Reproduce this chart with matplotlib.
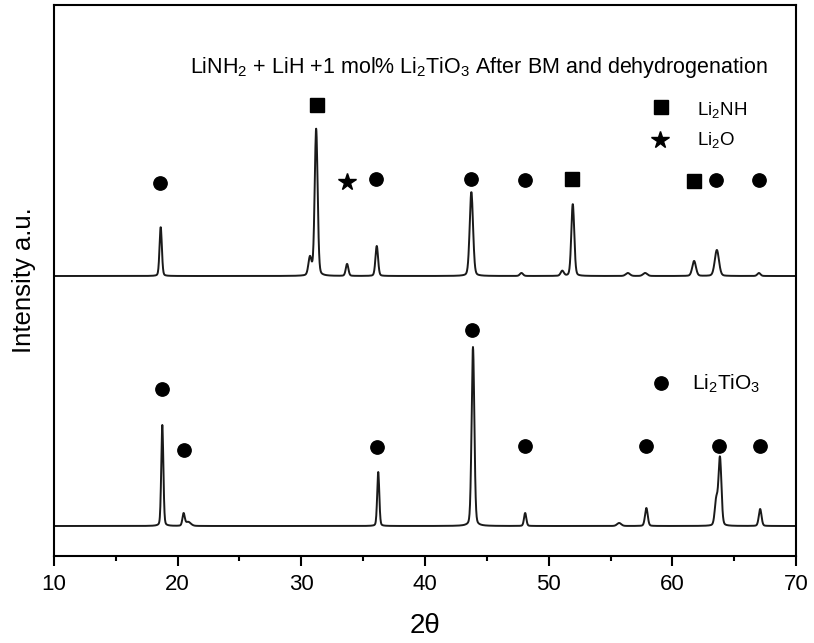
import numpy as np
import matplotlib
matplotlib.use('Agg')
import matplotlib.pyplot as plt

plt.rcParams['font.family'] = ['Liberation Sans', 'DejaVu Sans']
plt.rcParams['mathtext.fontset'] = 'custom'
plt.rcParams['mathtext.rm'] = 'Liberation Sans'
plt.rcParams['mathtext.default'] = 'rm'

# peaks: 2theta, height (a.u.), FWHM (deg)
bm_pos    = [18.63, 30.70, 31.20, 33.70, 36.10, 43.75, 47.80, 51.10, 51.95, 56.40, 57.80, 61.76, 63.60, 67.00]
bm_height = [49,    18,    147,   12,    30,    84,    3,     5,     72,    3,     3,     15,    26,    3]
bm_fwhm   = [0.22,  0.30,  0.28,  0.25,  0.25,  0.32,  0.30,  0.30,  0.28,  0.40,  0.40,  0.35,  0.40,  0.30]
bm_offset = 280

lto_pos    = [18.76, 20.48, 20.85, 36.22, 43.88, 48.10, 55.70, 57.90, 63.55, 63.85, 67.10]
lto_height = [101,   12,    4,     54,    179,   13,    3,     18,    25,    68,    17]
lto_fwhm   = [0.20,  0.22,  0.50,  0.20,  0.26,  0.22,  0.40,  0.26,  0.28,  0.28,  0.26]
lto_offset = 30

# phase markers (2theta, height)
bm_circ_x = [18.60, 36.03, 43.74, 48.08, 63.57, 66.99]
bm_circ_y = [373, 377, 377, 376, 376, 376]
bm_sq_x = [31.24, 51.85, 61.76]
bm_sq_y = [451, 377, 375]
bm_star_x = [33.71]
bm_star_y = [374]

lto_circ_x = [18.73, 20.48, 36.14, 43.80, 48.10, 57.86, 63.78, 67.07]
lto_circ_y = [167, 106, 109, 226, 110, 110, 110, 110]

tth = np.linspace(10, 70, 3001)


def pattern(pos, height, fwhm, offset):
    y = np.full_like(tth, float(offset))
    for p, h, w in zip(pos, height, fwhm):
        s = w / 2.3548
        g = np.exp(-0.5 * ((tth - p) / s) ** 2)
        l = 1.0 / (1.0 + ((tth - p) / (w / 2)) ** 2)
        y += h * (0.8 * g + 0.2 * l)
    return y


fig = plt.figure(figsize=(8.14, 6.43), dpi=100)
ax = fig.add_axes([0.0663, 0.1353, 0.9116, 0.8569])

ax.plot(tth, pattern(bm_pos, bm_height, bm_fwhm, bm_offset), color='#1a1a1a', lw=1.4)
ax.plot(tth, pattern(lto_pos, lto_height, lto_fwhm, lto_offset), color='#1a1a1a', lw=1.4)

ax.plot(bm_circ_x, bm_circ_y, 'o', color='k', ms=9.6, ls='none')
ax.plot(bm_sq_x, bm_sq_y, 's', color='k', ms=9.4, ls='none')
ax.plot(bm_star_x, bm_star_y, '*', color='k', ms=13, ls='none')
ax.plot(lto_circ_x, lto_circ_y, 'o', color='k', ms=9.6, ls='none')

# legend-like labels
ax.plot([59.05], [449], 's', color='k', ms=9.4)
ax.plot([59.0], [416], '*', color='k', ms=13)
ax.plot([59.05], [173], 'o', color='k', ms=9.6)
ax.text(61.98, 441, 'Li$_2$NH', fontsize=13.5, va='baseline')
ax.text(61.98, 411, 'Li$_2$O', fontsize=13.5, va='baseline')

ax.text(61.55, 166, r'Li$_{\mathregular{2}}$TiO$_{\mathregular{3}}$', fontsize=15, va='baseline')
ax.text(20.99, 483, r'LiNH$_{\mathregular{2}}$ + LiH +1 mol% Li$_{\mathregular{2}}$TiO$_{\mathregular{3}}$ After BM and dehydrogenation',
        fontsize=15.5, va='baseline')

ax.set_xlim(10, 70)
ax.set_ylim(0, 551)
ax.set_xticks([10, 20, 30, 40, 50, 60, 70])
ax.set_xticks([15, 25, 35, 45, 55, 65], minor=True)
ax.set_yticks([])
ax.tick_params(axis='x', which='major', direction='out', length=7, width=1.5, labelsize=16, pad=6)
ax.tick_params(axis='x', which='minor', direction='out', length=3.5, width=1.5)
for sp in ax.spines.values():
    sp.set_linewidth(1.5)

ax.set_xlabel('2θ', fontsize=20, labelpad=13)
ax.set_ylabel('Intensity a.u.', fontsize=18.5)
ax.yaxis.set_label_coords(-0.024, 0.5)

fig.savefig('out.png', dpi=100)
